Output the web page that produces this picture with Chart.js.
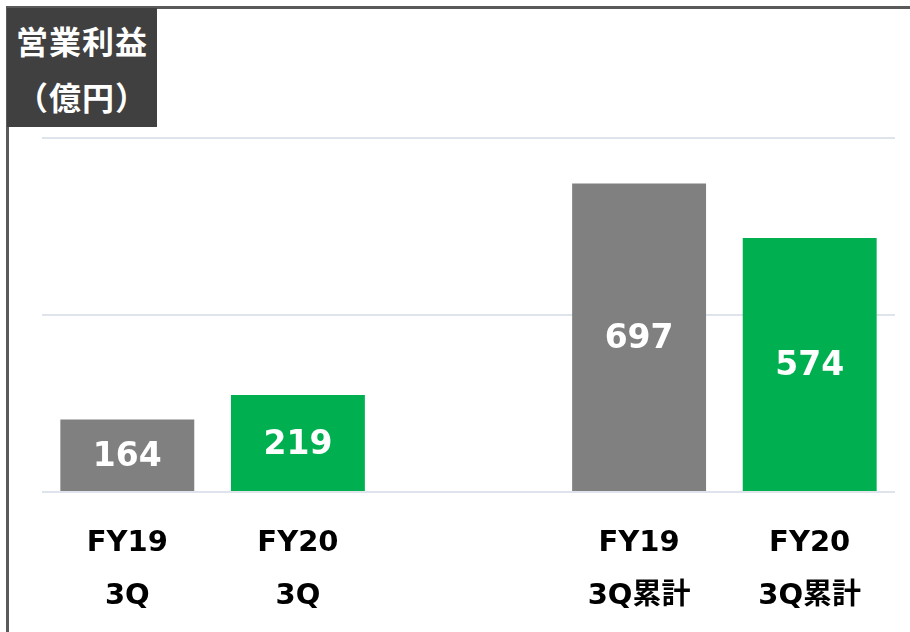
<!DOCTYPE html>
<html>
<head>
<meta charset="utf-8">
<script src="https://cdn.jsdelivr.net/npm/chart.js@4/dist/chart.umd.min.js"></script>
<style>
  html, body { margin: 0; padding: 0; background: #fff; }
  body { width: 910px; height: 632px; position: relative; overflow: hidden; }
  #frame {
    position: absolute; left: 6px; top: 6px; width: 920px; height: 640px;
    border-top: 3px solid #5a5a5a; border-left: 3px solid #5a5a5a;
  }
  #unit {
    position: absolute; left: 7px; top: 8px; width: 150px; height: 119px;
    background: #404040; color: #fff; text-align: center;
    font-family: 'Noto Sans CJK JP', sans-serif; font-weight: bold; font-size: 32px;
    letter-spacing: 1px;
  }
  #unit .l1 { position: absolute; left: 0; right: 0; top: 10px; line-height: 44px; }
  #unit .l2 { position: absolute; left: 0; right: 0; top: 66px; line-height: 44px; }
  canvas { position: absolute; left: 0; top: 0; }
</style>
</head>
<body>
<div id="frame"></div>
<canvas id="opChart" width="910" height="648"></canvas>
<div id="unit"><div class="l1">営業利益</div><div class="l2">（億円）</div></div>
<script>
'use strict';

// 営業利益（億円）
const categories = [['FY19', '3Q'], ['FY20', '3Q'], '', ['FY19', '3Q累計'], ['FY20', '3Q累計']];
const profits = [164, 219, null, 697, 574];
const barColors = ['#808080', '#00b050', 'transparent', '#808080', '#00b050'];
const yTicks = [0, 400, 800];

// バーの中央に値を表示
const valueLabelPlugin = {
  id: 'valueLabel',
  afterDatasetsDraw(chart) {
    const { ctx } = chart;
    const meta = chart.getDatasetMeta(0);
    ctx.save();
    ctx.fillStyle = '#ffffff';
    ctx.font = "bold 33px 'DejaVu Sans', sans-serif";
    ctx.textAlign = 'center';
    ctx.textBaseline = 'middle';
    meta.data.forEach((bar, i) => {
      const v = profits[i];
      if (v == null) return;
      ctx.fillText(String(v), bar.x, (bar.y + bar.base) / 2 + 2);
    });
    ctx.restore();
  }
};

new Chart(document.getElementById('opChart').getContext('2d'), {
  type: 'bar',
  plugins: [valueLabelPlugin],
  data: {
    labels: categories,
    datasets: [{
      data: profits,
      backgroundColor: barColors,
      borderWidth: 0,
      barPercentage: 0.785,
      categoryPercentage: 1,
    }],
  },
  options: {
    responsive: false,
    animation: false,
    layout: { padding: { left: 42, right: 15, top: 138, bottom: 0 } },
    plugins: {
      legend: { display: false },
      tooltip: { enabled: false },
    },
    scales: {
      x: {
        grid: { display: false, drawTicks: false },
        border: { display: false },
        ticks: {
          color: '#000000',
          padding: 25,
          font: { family: "'DejaVu Sans', 'Noto Sans CJK JP', sans-serif", size: 29, weight: 'bold', lineHeight: '53px' },
          maxRotation: 0,
          autoSkip: false,
        },
      },
      y: {
        min: 0,
        max: 800,
        afterBuildTicks(scale) { scale.ticks = yTicks.map(v => ({ value: v })); },
        ticks: { display: false },
        grid: { color: '#dfe3ec', lineWidth: 2, drawTicks: false },
        border: { display: false },
      },
    },
  },
});
</script>
</body>
</html>
